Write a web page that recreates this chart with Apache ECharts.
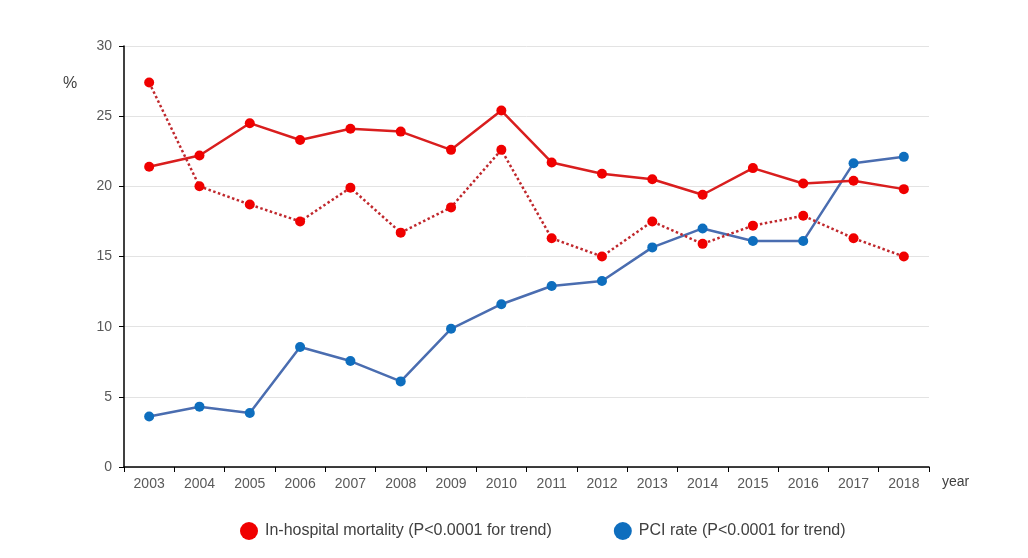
<!DOCTYPE html>
<html>
<head>
<meta charset="utf-8">
<script src="https://cdn.jsdelivr.net/npm/echarts@6/dist/echarts.min.js"></script>
<style>html,body{margin:0;padding:0;background:#fff;}#c{width:1028px;height:558px;}</style>
</head>
<body>
<div id="c"></div>
<script>
var years = ['2003','2004','2005','2006','2007','2008','2009','2010','2011','2012','2013','2014','2015','2016','2017','2018'];
var mortalitySolid = [21.4,22.2,24.5,23.3,24.1,23.9,22.6,25.4,21.7,20.9,20.5,19.4,21.3,20.2,20.4,19.8];
var mortalityDotted = [27.4,20.0,18.7,17.5,19.9,16.7,18.5,22.6,16.3,15.0,17.5,15.9,17.2,17.9,16.3,15.0];
var pciRate = [3.6,4.3,3.85,8.55,7.55,6.1,9.85,11.6,12.9,13.25,15.65,17.0,16.1,16.1,21.65,22.1];
var yTicks = [0,5,10,15,20,25,30];
var mortName = 'In-hospital mortality (P<0.0001 for trend)';
var pciName = 'PCI rate (P<0.0001 for trend)';

var chart = echarts.init(document.getElementById('c'));
var font = 'Liberation Sans, Arial, sans-serif';
chart.setOption({
  animation: false,
  backgroundColor: '#fff',
  grid: {left: 124, right: 99, top: 46, bottom: 91, containLabel: false},
  legend: {
    data: [{name: mortName, icon: 'circle'}, {name: pciName, icon: 'circle'}],
    left: 235, top: 517, itemWidth: 18, itemHeight: 18, itemGap: 62,
    textStyle: {color: '#404040', fontSize: 16, fontFamily: font, padding: [0, 0, 0, 2]}
  },
  xAxis: {
    type: 'category', data: years, boundaryGap: true,
    axisLine: {lineStyle: {color: '#000', width: 1.5}},
    axisTick: {show: true, lineStyle: {color: '#000'}, length: 5},
    axisLabel: {color: '#595959', fontSize: 14, fontFamily: font, margin: 10},
    splitLine: {show: false}
  },
  yAxis: {
    type: 'value', min: yTicks[0], max: yTicks[yTicks.length-1], interval: 5,
    axisLine: {show: true, lineStyle: {color: '#000', width: 1.5}},
    axisTick: {show: true, lineStyle: {color: '#000'}, length: 5},
    axisLabel: {color: '#595959', fontSize: 14, fontFamily: font, margin: 12},
    splitLine: {lineStyle: {color: '#e3e3e3'}}
  },
  graphic: [
    {type: 'text', left: 63, top: 76, style: {text: '%', fill: '#404040', fontSize: 16, fontFamily: font}},
    {type: 'text', left: 942, top: 475, style: {text: 'year', fill: '#404040', fontSize: 14, fontFamily: font}}
  ],
  series: [
    {
      name: mortName, type: 'line', data: mortalitySolid,
      symbol: 'circle', symbolSize: 10,
      lineStyle: {color: '#d91e1e', width: 2.5},
      itemStyle: {color: '#f00000'}, z: 3
    },
    {
      name: mortName, type: 'line', data: mortalityDotted,
      symbol: 'circle', symbolSize: 10,
      lineStyle: {color: '#c0282d', width: 2.5, type: 'dotted'},
      itemStyle: {color: '#f00000'}, z: 3
    },
    {
      name: pciName, type: 'line', data: pciRate,
      symbol: 'circle', symbolSize: 10,
      lineStyle: {color: '#4a6db0', width: 2.5},
      itemStyle: {color: '#0e6ebe'}, z: 2
    }
  ]
});
</script>
</body>
</html>
